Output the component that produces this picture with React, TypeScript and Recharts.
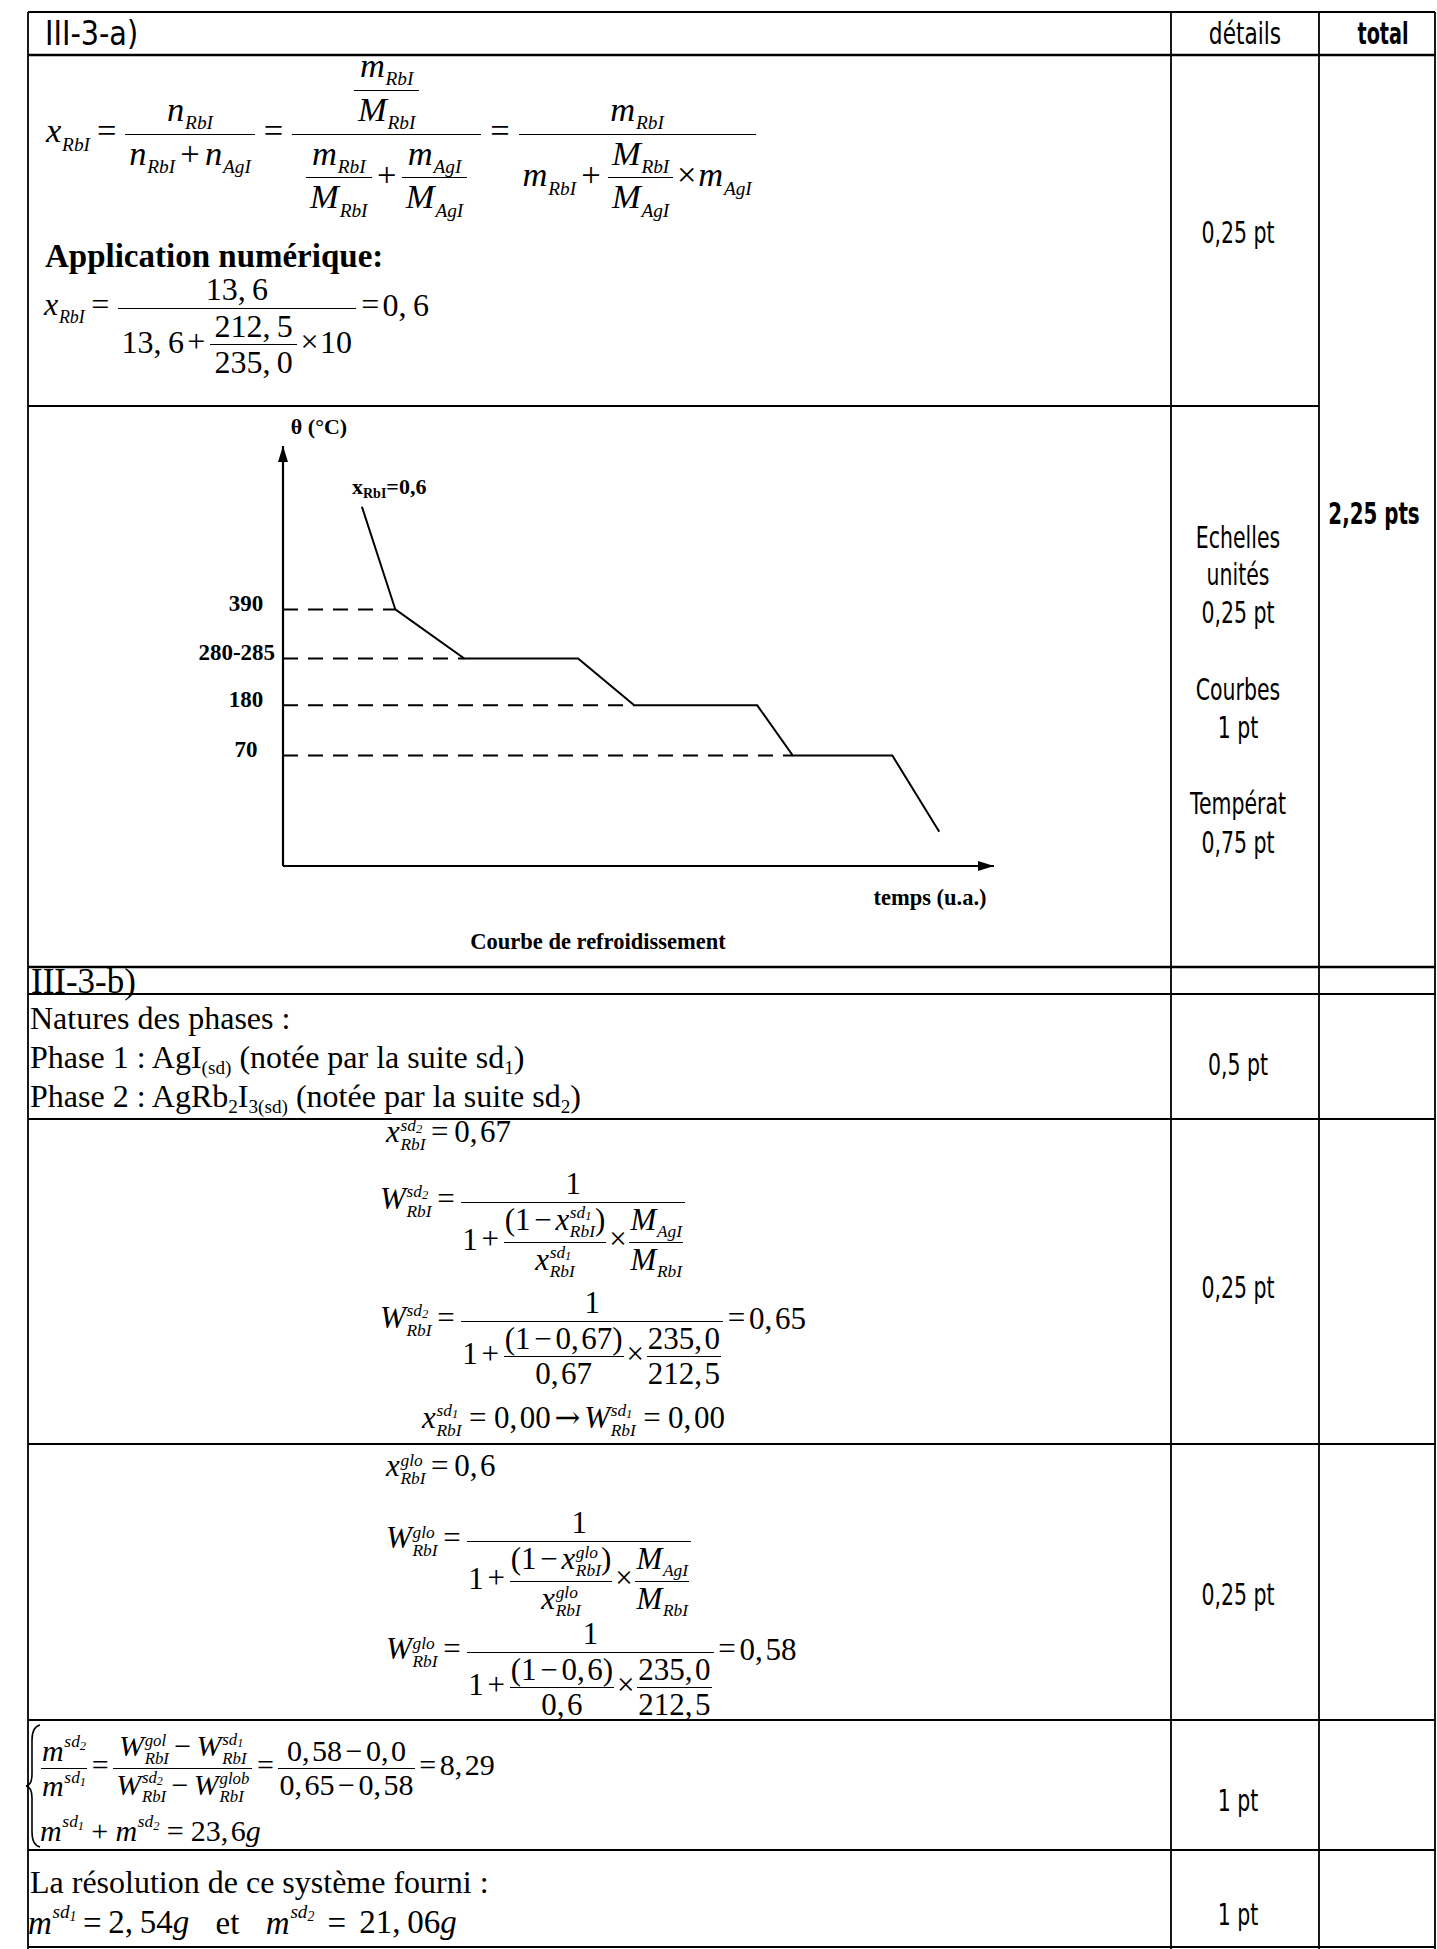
import React from 'react';
import { LineChart, Line, XAxis, YAxis, ReferenceLine, Label } from 'recharts';

// ---------- data ----------
const timeUA = [11.1, 15.8, 25.5, 41.5, 49.4, 66.7, 71.7, 85.7, 92.3];
const tempC = [615, 390, 282.5, 282.5, 180, 180, 70, 70, -97];
const levelValues = [390, 282.5, 180, 70];
const levelLabels = ['390', '280-285', '180', '70'];
const timeDomain = [0, 100];
const tempDomain = [-172, 748];

// ---------- right-hand columns ----------
const detailNotes = [
  { t: '0,25 pt', y: 232 },
  { t: 'Echelles', y: 537 },
  { t: 'unités', y: 574 },
  { t: '0,25 pt', y: 612 },
  { t: 'Courbes', y: 689 },
  { t: '1 pt', y: 727 },
  { t: 'Températ', y: 803 },
  { t: '0,75 pt', y: 842 },
  { t: '0,5 pt', y: 1064 },
  { t: '0,25 pt', y: 1287 },
  { t: '0,25 pt', y: 1594 },
  { t: '1 pt', y: 1800 },
  { t: '1 pt', y: 1914 },
];
const rowLinesFull = [12, 55, 967, 994, 1119, 1444, 1720, 1850, 1947];
const rowLinesPartial = [406];
const colLines = [28, 1171, 1319, 1435];

const chartData = timeUA.map((t, i) => ({ t, T: tempC[i] }));
const levelEnd = levelValues.map((v) => timeUA[tempC.indexOf(v)]);

const serif = '"Liberation Serif", "Times New Roman", Times, serif';
const condFont = '"DejaVu Sans", sans-serif';

// chart frame
const CHART_LEFT = 160;
const Y_AXIS_W = 123;

// ---------- math helpers ----------
const Sp = React.createContext({ op: 0.2, px: 4, thin: '\u2009', fm: 2 });
const TIGHT = { op: 0.12, px: 1, thin: '\u200A', fm: 1 };

function N({ s }: any) {
  const c = React.useContext(Sp);
  return <>{s.replace(',', ',' + c.thin)}</>;
}

function Op({ c, m = 1, font }: any) {
  const ctx = React.useContext(Sp);
  return <span style={{ margin: `0 ${ctx.op * m}em`, fontStyle: 'normal', fontFamily: font }}>{c}</span>;
}

function V({ b, sub, sup }: any) {
  let script: any = null;
  if (sub !== undefined) {
    script = (
      <span style={{ display: 'inline-block', verticalAlign: '-0.45em', fontSize: '0.56em', lineHeight: 1.05, fontStyle: 'italic', marginLeft: '0.04em' }}>
        {sup !== undefined && <span style={{ display: 'block' }}>{sup}</span>}
        <span style={{ display: 'block' }}>{sub}</span>
      </span>
    );
  } else if (sup !== undefined) {
    script = (
      <span style={{ display: 'inline-block', verticalAlign: '0.8em', fontSize: '0.58em', lineHeight: 1, fontStyle: 'italic', marginLeft: '0.04em' }}>{sup}</span>
    );
  }
  return (
    <span style={{ whiteSpace: 'nowrap' }}>
      <span style={{ fontStyle: 'italic' }}>{b}</span>
      {script}
    </span>
  );
}

const sd = (n: string) => (
  <>
    sd<span style={{ fontSize: '0.72em', verticalAlign: '-0.2em' }}>{n}</span>
  </>
);

function Fr({ n, d, h, px, bw = 1.6 }: any) {
  const ctx = React.useContext(Sp);
  const p = px ?? ctx.px;
  const cell = (content: any, top: boolean) => (
    <span style={{ display: 'flex', justifyContent: 'center', alignItems: top ? 'flex-end' : 'flex-start', height: h, padding: `0 ${p}px` }}>
      <span style={{ whiteSpace: 'nowrap' }}>{content}</span>
    </span>
  );
  return (
    <span style={{ display: 'inline-flex', flexDirection: 'column', verticalAlign: 'middle', margin: `0 ${ctx.fm}px` }}>
      {cell(n, true)}
      <span style={{ height: 0, borderTop: `${bw}px solid #000` }} />
      {cell(d, false)}
    </span>
  );
}

function Eq({ x, y, size = 32, bold = false, lh = 1.12, tight = false, children }: any) {
  const body = (
    <div style={{ position: 'absolute', left: x, top: y - 150, height: 300, display: 'flex', alignItems: 'center', fontFamily: serif, fontSize: size, lineHeight: lh, whiteSpace: 'nowrap', fontWeight: bold ? 700 : 400 }}>
      <span>{children}</span>
    </div>
  );
  return tight ? <Sp.Provider value={TIGHT}>{body}</Sp.Provider> : body;
}

const subStyle = { fontSize: '0.6em', position: 'relative', top: '0.3em', lineHeight: 1 } as const;

// ---------- condensed text in the SVG overlay ----------
function CT({ x, y, t, bold = false, size = 31, sx = 0.66, anchor = 'middle' }: any) {
  return (
    <text transform={`translate(${x} ${y}) scale(${sx} 1)`} textAnchor={anchor} dominantBaseline="central" fontFamily={condFont} fontSize={size} fontWeight={bold ? 700 : 400} fill="#000">
      {t}
    </text>
  );
}

// ---------- chart ----------
function LevelTick(props: any) {
  const { y, payload } = props;
  const i = levelValues.indexOf(payload.value);
  const label = levelLabels[i] ?? '';
  const cx = Y_AXIS_W - 37 - Math.max(0, label.length - 3) * 2.3;
  return (
    <text x={cx} y={y - 6} textAnchor="middle" dominantBaseline="central" fontFamily={serif} fontWeight={700} fontSize={23} fill="#000">
      {label}
    </text>
  );
}

const ThetaLabel = (p: any) => {
  const vb = p.viewBox;
  return (
    <text x={vb.x + vb.width + 36} y={vb.y - 12} textAnchor="middle" fontFamily={serif} fontWeight={700} fontSize={22} fill="#000">
      θ (°C)
    </text>
  );
};

const XLabel = (p: any) => {
  const vb = p.viewBox;
  return (
    <text x={vb.x + vb.width + 69} y={vb.y + 48} textAnchor="start" fontFamily={serif} fontWeight={700} fontSize={22} fill="#000">
      x<tspan fontSize={14} dy={4}>RbI</tspan>
      <tspan dy={-4}>=0,6</tspan>
    </text>
  );
};

const TempsLabel = (p: any) => {
  const vb = p.viewBox;
  return (
    <text x={vb.x + vb.width - 64} y={vb.y + 39} textAnchor="middle" fontFamily={serif} fontWeight={700} fontSize={22.5} fill="#000">
      temps (u.a.)
    </text>
  );
};

const CaptionLabel = (p: any) => {
  const vb = p.viewBox;
  return (
    <text x={vb.x + 315} y={vb.y + 83} textAnchor="middle" fontFamily={serif} fontWeight={700} fontSize={22.5} fill="#000">
      Courbe de refroidissement
    </text>
  );
};

function CoolingChart() {
  return (
    <div style={{ position: 'absolute', left: CHART_LEFT, top: 406 }}>
      <LineChart width={1020 - CHART_LEFT} height={561} data={chartData} margin={{ top: 40, right: 26, bottom: 0, left: 0 }}>
        <XAxis
          type="number"
          dataKey="t"
          domain={timeDomain}
          tick={false}
          tickLine={false}
          height={101}
          axisLine={{ stroke: '#000', strokeWidth: 2.2, markerEnd: 'url(#arrowEnd)' }}
        >
          <Label content={TempsLabel} />
          <Label content={CaptionLabel} />
        </XAxis>
        <YAxis
          type="number"
          domain={tempDomain}
          ticks={levelValues}
          interval={0}
          width={Y_AXIS_W}
          tickLine={false}
          tick={<LevelTick />}
          axisLine={{ stroke: '#000', strokeWidth: 2.2, markerStart: 'url(#arrowStart)' }}
        >
          <Label content={ThetaLabel} />
          <Label content={XLabel} />
        </YAxis>
        {levelValues.map((v, i) => (
          <ReferenceLine
            key={i}
            segment={[{ x: timeDomain[0], y: v }, { x: levelEnd[i], y: v }]}
            stroke="#000"
            strokeWidth={2}
            strokeDasharray="15 10"
          />
        ))}
        <Line type="linear" dataKey="T" stroke="#000" strokeWidth={2} dot={false} activeDot={false} isAnimationActive={false} />
      </LineChart>
    </div>
  );
}

export default function App() {
  return (
    <div style={{ position: 'absolute', left: 0, top: 0, width: 1437, height: 1949, background: '#fff', overflow: 'hidden', fontFamily: serif, color: '#000' }}>
      <svg width={0} height={0} style={{ position: 'absolute' }}>
        <defs>
          <marker id="arrowEnd" viewBox="0 0 16 10" refX={16} refY={5} markerWidth={16} markerHeight={10} markerUnits="userSpaceOnUse" orient="auto">
            <path d="M0,0 L16,5 L0,10 z" fill="#000" />
          </marker>
          <marker id="arrowStart" viewBox="0 0 16 10" refX={16} refY={5} markerWidth={16} markerHeight={10} markerUnits="userSpaceOnUse" orient="auto-start-reverse">
            <path d="M0,0 L16,5 L0,10 z" fill="#000" />
          </marker>
        </defs>
      </svg>

      {/* table grid and right-hand column text */}
      <svg width={1437} height={1949} style={{ position: 'absolute', left: 0, top: 0 }}>
        {colLines.map((x, i) => (
          <line key={'c' + i} x1={x} y1={12} x2={x} y2={1949} stroke="#000" strokeWidth={1.8} />
        ))}
        {rowLinesFull.map((y, i) => (
          <line key={'r' + i} x1={28} y1={y} x2={1435} y2={y} stroke="#000" strokeWidth={y === 55 || y === 967 ? 2.6 : 1.8} />
        ))}
        {rowLinesPartial.map((y, i) => (
          <line key={'p' + i} x1={28} y1={y} x2={1319} y2={y} stroke="#000" strokeWidth={2.2} />
        ))}
        <CT x={45} y={33} t="III-3-a)" anchor="start" size={33} sx={0.87} />
        <CT x={1245} y={33} t="détails" sx={0.7} />
        <CT x={1383} y={33} t="total" bold sx={0.62} />
        <CT x={1374} y={513} t="2,25 pts" bold sx={0.64} />
        {detailNotes.map((d, i) => (
          <CT key={'d' + i} x={1238} y={d.y} t={d.t} />
        ))}
        {/* brace of the system */}
        <path d="M40,1725 Q32,1727 32,1740 L32,1774 Q32,1785 26,1786 Q32,1787 32,1798 L32,1832 Q32,1845 40,1847" fill="none" stroke="#000" strokeWidth={1.6} />
      </svg>

      {/* ---------- III-3-a) ---------- */}
      <Eq x={46} y={134} size={34.5} lh={1.06}>
        <V b="x" sub="RbI" />
        <Op c="=" />
        <Fr n={<V b="n" sub="RbI" />} d={<><V b="n" sub="RbI" /><Op c="+" m={0.75} /><V b="n" sub="AgI" /></>} />
        <Op c="=" />
        <Fr
          px={12}
          n={<Fr n={<V b="m" sub="RbI" />} d={<V b="M" sub="RbI" />} />}
          d={<><Fr n={<V b="m" sub="RbI" />} d={<V b="M" sub="RbI" />} /><Op c="+" m={0.5} /><Fr n={<V b="m" sub="AgI" />} d={<V b="M" sub="AgI" />} /></>}
        />
        <Op c="=" />
        <Fr
          h={80}
          n={<V b="m" sub="RbI" />}
          d={<><V b="m" sub="RbI" /><Op c="+" m={0.75} /><Fr n={<V b="M" sub="RbI" />} d={<V b="M" sub="AgI" />} /><Op c="×" m={0.25} /><V b="m" sub="AgI" /></>}
        />
      </Eq>
      <Eq x={45} y={256} size={33} bold>
        Application numérique:
      </Eq>
      <Eq x={44} y={308} size={32}>
        <V b="x" sub="RbI" />
        <Op c="=" />
        <Fr h={78} n={<N s="13,6" />} d={<><N s="13,6" /><Op c="+" m={0.5} /><Fr n={<N s="212,5" />} d={<N s="235,0" />} /><Op c="×" m={0.25} />10</>} />
        <Op c="=" m={0.5} />
        <N s="0,6" />
      </Eq>

      {/* ---------- III-3-b) ---------- */}
      <Eq x={31} y={981} size={35} lh={1}>III-3-b)</Eq>
      <Eq x={30} y={1019} size={32} lh={1.05}>Natures des phases :</Eq>
      <Eq x={30} y={1058} size={32} lh={1.05}>
        Phase 1 : AgI<span style={subStyle}>(sd)</span> (notée par la suite sd<span style={subStyle}>1</span>)
      </Eq>
      <Eq x={30} y={1097} size={32} lh={1.05}>
        Phase 2 : AgRb<span style={subStyle}>2</span>I<span style={subStyle}>3(sd)</span> (notée par la suite sd<span style={subStyle}>2</span>)
      </Eq>

      <Eq x={386} y={1135} size={31} tight>
        <V b="x" sup={sd('2')} sub="RbI" />
        <Op c="=" m={1.5} />
        <N s="0,67" />
      </Eq>
      <Eq x={380} y={1202} size={31} tight>
        <V b="W" sup={sd('2')} sub="RbI" />
        <Op c="=" m={1.5} />
        <Fr
          h={78}
          n="1"
          d={<>1<Op c="+" /><Fr n={<>(1<Op c="−" /><V b="x" sup={sd('1')} sub="RbI" />)</>} d={<V b="x" sup={sd('1')} sub="RbI" />} /><Op c="×" m={0.5} /><Fr n={<V b="M" sub="AgI" />} d={<V b="M" sub="RbI" />} /></>}
        />
      </Eq>
      <Eq x={380} y={1321} size={31} tight>
        <V b="W" sup={sd('2')} sub="RbI" />
        <Op c="=" m={1.5} />
        <Fr
          h={78}
          n="1"
          d={<>1<Op c="+" /><Fr n={<>(1<Op c="−" /><N s="0,67" />)</>} d={<N s="0,67" />} /><Op c="×" m={0.5} /><Fr n={<N s="235,0" />} d={<N s="212,5" />} /></>}
        />
        <Op c="=" />
        <N s="0,65" />
      </Eq>
      <Eq x={422} y={1420} size={31} tight>
        <V b="x" sup={sd('1')} sub="RbI" />
        <Op c="=" m={2} />
        <N s="0,00" />
        <Op c="→" m={1} font='"DejaVu Serif", serif' />
        <V b="W" sup={sd('1')} sub="RbI" />
        <Op c="=" m={2} />
        <N s="0,00" />
      </Eq>

      <Eq x={386} y={1469} size={31} tight>
        <V b="x" sup="glo" sub="RbI" />
        <Op c="=" m={1.5} />
        <N s="0,6" />
      </Eq>
      <Eq x={386} y={1541} size={31} tight>
        <V b="W" sup="glo" sub="RbI" />
        <Op c="=" m={1.5} />
        <Fr
          h={78}
          n="1"
          d={<>1<Op c="+" /><Fr n={<>(1<Op c="−" /><V b="x" sup="glo" sub="RbI" />)</>} d={<V b="x" sup="glo" sub="RbI" />} /><Op c="×" m={0.5} /><Fr n={<V b="M" sub="AgI" />} d={<V b="M" sub="RbI" />} /></>}
        />
      </Eq>
      <Eq x={386} y={1652} size={31} tight>
        <V b="W" sup="glo" sub="RbI" />
        <Op c="=" m={1.5} />
        <Fr
          h={78}
          n="1"
          d={<>1<Op c="+" /><Fr n={<>(1<Op c="−" /><N s="0,6" />)</>} d={<N s="0,6" />} /><Op c="×" m={0.5} /><Fr n={<N s="235,0" />} d={<N s="212,5" />} /></>}
        />
        <Op c="=" />
        <N s="0,58" />
      </Eq>

      <Eq x={40} y={1768} size={30} tight lh={1.08}>
        <Fr n={<V b="m" sup={sd('2')} />} d={<V b="m" sup={sd('1')} />} />
        <Op c="=" />
        <Fr
          px={3}
          n={<><V b="W" sup="gol" sub="RbI" /><Op c="−" m={1.5} /><V b="W" sup={sd('1')} sub="RbI" /></>}
          d={<><V b="W" sup={sd('2')} sub="RbI" /><Op c="−" m={1.5} /><V b="W" sup="glob" sub="RbI" /></>}
        />
        <Op c="=" />
        <Fr n={<><N s="0,58" /><Op c="−" /><N s="0,0" /></>} d={<><N s="0,65" /><Op c="−" /><N s="0,58" /></>} />
        <Op c="=" />
        <N s="8,29" />
      </Eq>
      <Eq x={40} y={1830} size={30} tight>
        <V b="m" sup={sd('1')} />
        <Op c="+" m={2} />
        <V b="m" sup={sd('2')} />
        <Op c="=" m={2} />
        <N s="23,6" /><i>g</i>
      </Eq>

      <Eq x={30} y={1883} size={32}>La résolution de ce système fourni :</Eq>
      <Eq x={28} y={1922} size={33}>
        <V b="m" sup={sd('1')} />
        <Op c="=" />
        <N s="2,54" /><i>g</i>
        <span style={{ margin: '0 0.8em' }}>et</span>
        <V b="m" sup={sd('2')} />
        <Op c="=" m={2} />
        <N s="21,06" /><i>g</i>
      </Eq>

      <CoolingChart />
    </div>
  );
}
